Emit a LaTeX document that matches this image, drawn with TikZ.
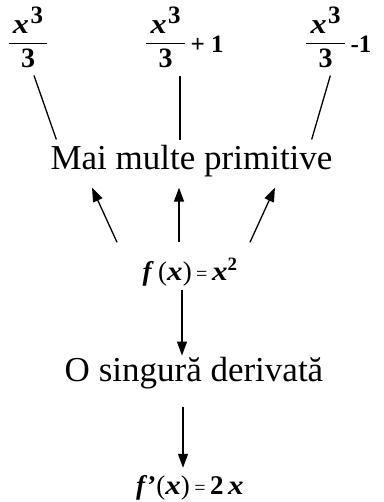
\documentclass[tikz,border=0pt]{standalone}
\usepackage{amsmath}
\usepackage{graphicx}
\usepackage{fontspec}
\setmainfont{Liberation Serif}
\usetikzlibrary{arrows.meta}
\newcommand{\bx}{\scalebox{1.15}[1]{\textbf{\textit{x}}}}
\newcommand{\bfn}{\textbf{\textit{f}}}
\newcommand{\eqsign}{\,{\fontsize{20}{20}\selectfont =}\,}
\newcommand{\cubefrac}{$\genfrac{}{}{1.1pt}{0}{\,\bx\kern1.5pt\raisebox{0.35em}{\fontsize{25}{25}\selectfont\bfseries 3}\,}{\textbf{3}}$}
\newcommand{\tail}[1]{\,\raisebox{-3pt}{\fontsize{25}{25}\selectfont\bfseries #1}}

\begin{document}
\begin{tikzpicture}[x=1pt, y=-1pt,
  word/.style={font=\fontsize{35}{40}\selectfont, inner sep=0pt, anchor=base},
  formula/.style={font=\fontsize{27}{32}\selectfont, inner sep=0pt},
  small/.style={font=\fontsize{28}{32}\selectfont, inner sep=0pt},
  link/.style={line width=1.3pt},
  arr/.style={line width=1.3pt, -{Triangle[length=14pt,width=10pt]}}
]
\useasboundingbox (0,0) rectangle (383,502);

% top row: three primitives
\node[small, anchor=base] (p1) at (28,50) {\cubefrac};
\node[small, anchor=base west] (p2) at (145,50) {\cubefrac\tail{+ 1}};
\node[small, anchor=base west] (p3) at (305,50) {\cubefrac\tail{-1}};

\node[word] (multe) at (191.5,170) {Mai multe primitive};
\node[formula, anchor=base] (f) at (190,280) {\bfn\,(\bx)\eqsign\bx\textsuperscript{\bfseries 2}};
\node[word] (unica) at (194,381) {O singură derivată};
\node[formula, anchor=base] (df) at (190,494) {\bfn\textbf{'}(\bx)\eqsign\textbf{2}\,\bx};

% links from the primitives
\draw[link] ([xshift=6pt,yshift=-8pt]p1.south) -- ([xshift=6pt,yshift=6pt]multe.north west);
\draw[link] ([xshift=-11.5pt,yshift=-8pt]multe.north |- p2.south) -- ([xshift=-11.5pt,yshift=6pt]multe.north);
\draw[link] ([xshift=-8pt,yshift=-8pt]p3.south) -- ([xshift=-21pt,yshift=6pt]multe.north east);

% arrows
\draw[arr] ([xshift=-73pt,yshift=16pt]f.north) -- ([xshift=-99.5pt,yshift=-10pt]multe.south);
\draw[arr] ([xshift=-11pt,yshift=16pt]f.north) -- ([xshift=-12.5pt,yshift=-10pt]multe.south);
\draw[arr] ([xshift=60pt,yshift=16pt]f.north) -- ([xshift=83.5pt,yshift=-10pt]multe.south);
\draw[arr] ([xshift=-8pt,yshift=-4pt]f.south) -- ([xshift=-12pt,yshift=1pt]unica.north);
\draw[arr] ([xshift=-11pt,yshift=-18pt]unica.south) -- ([xshift=-7pt,yshift=7pt]df.north);
\end{tikzpicture}
\end{document}
